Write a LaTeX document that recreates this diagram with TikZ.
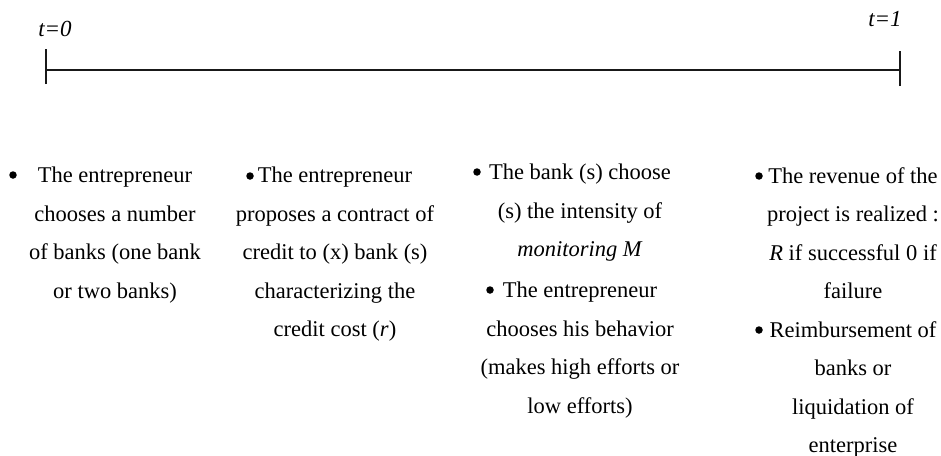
\documentclass[tikz,border=0pt]{standalone}
\usepackage{fontspec}
\setmainfont{Liberation Serif}
\begin{document}
\begin{tikzpicture}[x=1pt, y=-1pt, line join=round,
    event/.style={align=center, inner sep=0pt, anchor=north, font=\fontsize{22.5}{38.5}\selectfont},
    dot/.style={circle, fill=black, inner sep=0pt, minimum size=7.5pt},
    tlabel/.style={anchor=base, inner sep=0pt, font=\fontsize{23}{27}\selectfont\itshape}]
    \useasboundingbox (0,0) rectangle (941,455);

    \coordinate (Start) at (46,70);
    \coordinate (End) at (900,70);

    \draw[line width=1.7pt, black!90] (Start) -- (End);
    \draw[line width=1.7pt, black!90] ([yshift=-14]Start) -- ([yshift=21]Start);
    \draw[line width=1.7pt, black!90] ([yshift=-16]End) -- ([yshift=19]End);

    \node[tlabel] (t0) at (55,36) {t=0};
    \node[tlabel] (t1) at (885,26) {t=1};

    \node[event] (choice) at (115,167) {The entrepreneur\\chooses a number\\of banks (one bank\\or two banks)};
    \node[event] (contract) at (335,167) {The entrepreneur\\proposes a contract of\\credit to (x) bank (s)\\characterizing the\\credit cost (\textit{r})};
    \node[event] (monitor) at (580,164) {The bank (s) choose\\(s) the intensity of\\\textit{monitoring M}};
    \node[event] (effort) at (580,282) {The entrepreneur\\chooses his behavior\\(makes high efforts or\\low efforts)};
    \node[event] (revenue) at (853,167) {The revenue of the\\project is realized :\\\textit{R} if successful 0 if\\failure};
    \node[event] (repay) at (853,321) {Reimbursement of\\banks or\\liquidation of\\enterprise};

    \node[dot] (d1) at (13,175) {};
    \node[dot] (d2) at (250,176) {};
    \node[dot] (d3) at (477,172) {};
    \node[dot] (d4) at (490,290) {};
    \node[dot] (d5) at (759,176) {};
    \node[dot] (d6) at (759,330) {};
\end{tikzpicture}
\end{document}
